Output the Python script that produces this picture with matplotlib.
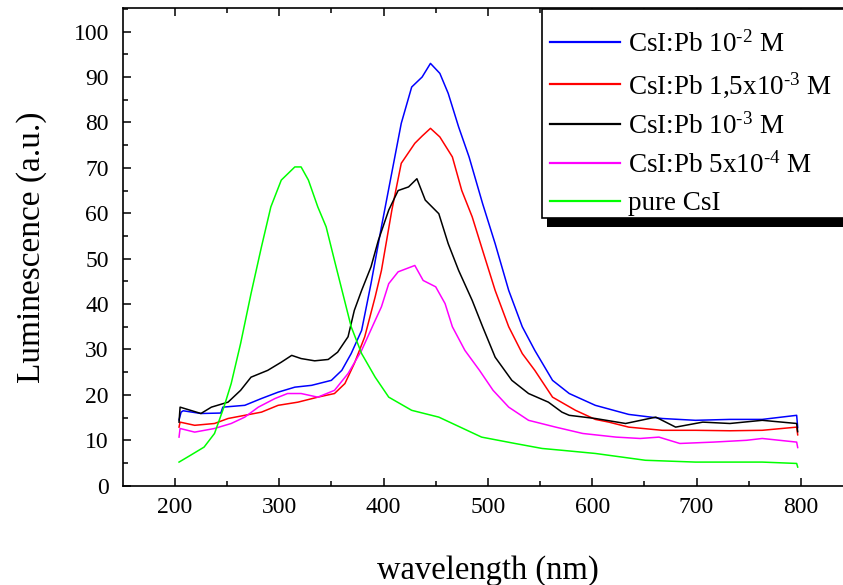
import matplotlib
matplotlib.use('Agg')
import matplotlib.pyplot as plt
from matplotlib.patches import Rectangle

plt.rcParams['font.family'] = ['Liberation Serif', 'DejaVu Serif']
plt.rcParams['mathtext.fontset'] = 'custom'
plt.rcParams['mathtext.rm'] = 'Liberation Serif'
plt.rcParams['mathtext.it'] = 'Liberation Serif:italic'

# spectra (wavelength nm, luminescence a.u.)
blue_x = [204, 206, 208, 225, 244, 246, 267, 283, 299, 315, 331, 350, 360, 369, 379, 388,
          398, 408, 417, 427, 437, 445, 454, 462, 472, 482, 495, 507, 520, 533, 545, 562,
          578, 603, 635, 667, 699, 732, 763, 796, 797]
blue_y = [14.5, 16.2, 16.5, 15.9, 16.0, 17.3, 17.7, 19.2, 20.6, 21.7, 22.1, 23.2, 25.4, 29.1,
          34.2, 44.5, 57.0, 69.0, 79.8, 87.8, 90.0, 93.0, 90.8, 86.4, 79.0, 72.4, 62.1, 53.3,
          43.0, 35.0, 29.8, 23.2, 20.3, 17.7, 15.7, 14.8, 14.4, 14.6, 14.6, 15.5, 12.8]

red_x = [204, 205, 219, 238, 251, 267, 283, 299, 318, 337, 353, 363, 372, 382, 392, 398,
         408, 417, 430, 437, 445, 454, 466, 475, 485, 495, 507, 520, 533, 545, 562, 584,
         603, 616, 635, 667, 699, 732, 763, 796, 797]
red_y = [12.9, 14.0, 13.3, 13.7, 14.8, 15.5, 16.2, 17.7, 18.4, 19.5, 20.3, 22.5, 26.9, 32.8,
         41.6, 47.4, 60.7, 71.0, 75.4, 77.0, 78.7, 76.8, 72.4, 65.0, 59.2, 51.8, 43.0, 35.0,
         29.1, 25.4, 19.5, 16.6, 14.6, 14.0, 12.9, 12.2, 12.2, 12.1, 12.2, 12.9, 11.2]

black_x = [204, 205, 225, 235, 251, 263, 273, 289, 302, 312, 321, 334, 347, 356, 366, 372,
           379, 388, 395, 405, 414, 424, 432, 440, 453, 462, 472, 485, 495, 507, 523, 539,
           558, 571, 578, 603, 632, 661, 680, 706, 732, 763, 796, 797]
black_y = [14.0, 17.3, 15.9, 17.3, 18.4, 21.0, 23.9, 25.4, 27.2, 28.7, 28.0, 27.5, 27.8, 29.4,
           32.8, 38.6, 43.0, 48.2, 54.0, 60.7, 65.0, 65.8, 67.6, 62.9, 59.9, 53.3, 47.4, 40.8,
           35.0, 28.3, 23.2, 20.3, 18.4, 16.2, 15.5, 14.8, 13.7, 15.1, 12.9, 14.0, 13.7, 14.4,
           13.7, 11.9]

magenta_x = [204, 205, 219, 238, 254, 267, 280, 296, 308, 321, 337, 353, 366, 379, 392, 398,
             405, 414, 430, 438, 450, 459, 466, 478, 492, 505, 520, 539, 565, 591, 623, 646,
             664, 684, 716, 748, 763, 796, 797]
magenta_y = [10.7, 12.6, 11.8, 12.6, 13.7, 15.1, 17.3, 19.2, 20.3, 20.3, 19.5, 21.0, 24.7, 29.8,
             36.4, 39.4, 44.5, 47.1, 48.5, 45.2, 43.8, 40.1, 35.0, 29.8, 25.4, 21.0, 17.3, 14.4,
             12.9, 11.5, 10.7, 10.4, 10.7, 9.3, 9.6, 10.0, 10.4, 9.6, 8.4]

green_x = [204, 215, 228, 238, 247, 254, 263, 273, 283, 292, 302, 315, 321, 328, 337, 345,
           353, 361, 369, 379, 392, 405, 427, 453, 494, 526, 552, 571, 603, 651, 699, 763,
           796, 797]
green_y = [5.2, 6.7, 8.5, 11.5, 17.3, 22.5, 31.3, 42.3, 52.6, 61.4, 67.3, 70.2, 70.2, 67.3,
           61.4, 57.0, 49.6, 42.3, 35.0, 29.1, 23.9, 19.5, 16.6, 15.1, 10.7, 9.3, 8.2, 7.8,
           7.1, 5.6, 5.2, 5.2, 4.9, 4.1]

labels = ['CsI:Pb 10$^{\\text{-}2}$ M', 'CsI:Pb 1,5x10$^{\\text{-}3}$ M',
          'CsI:Pb 10$^{\\text{-}3}$ M', 'CsI:Pb 5x10$^{\\text{-}4}$ M', 'pure CsI']

W, H = 843, 585
fig = plt.figure(figsize=(W / 100, H / 100), dpi=100)
ax = fig.add_axes([122.7 / W, (H - 485.7) / H, (853 - 122.7) / W, (485.7 - 8) / H])

lw = 1.1
ax.plot(blue_x, blue_y, color='#0000ff', lw=lw, label=labels[0])
ax.plot(red_x, red_y, color='#ff0000', lw=lw, label=labels[1])
ax.plot(black_x, black_y, color='black', lw=lw, label=labels[2])
ax.plot(magenta_x, magenta_y, color='#ff00ff', lw=lw, label=labels[3])
ax.plot(green_x, green_y, color='#00ff00', lw=lw, label=labels[4])

ax.set_xlim(150, 850)
ax.set_ylim(0, 105.2)
ax.set_xticks(range(200, 801, 100))
ax.set_xticks(range(250, 851, 100), minor=True)
ax.set_yticks(range(0, 101, 10))
ax.set_yticks(range(5, 106, 10), minor=True)
ax.tick_params(which='both', direction='in', top=True, right=True, width=1.1)
ax.tick_params(which='major', length=6, labelsize=17)
ax.tick_params(axis='x', which='major', pad=8)
ax.tick_params(axis='y', which='major', pad=10)
ax.tick_params(which='minor', length=3.5)
for s in ax.spines.values():
    s.set_linewidth(1.2)

ax.set_xlabel('wavelength (nm)', fontsize=23.5, labelpad=27)
ax.set_ylabel('Luminescence (a.u.)', fontsize=24, labelpad=19)

# legend frame with a solid drop shadow, partly cut by the right edge
def px_rect(x0, y0, x1, y1, **kw):
    return Rectangle((x0 / W, 1 - y1 / H), (x1 - x0) / W, (y1 - y0) / H,
                     transform=fig.transFigure, clip_on=False, **kw)

fig.patches.append(px_rect(547, 17, 860, 227, facecolor='black', edgecolor='none', zorder=5))
fig.patches.append(px_rect(541.7, 9.3, 852, 218, facecolor='white', edgecolor='black',
                           lw=1.2, zorder=6))

leg = fig.legend(loc='upper left', bbox_to_anchor=(550 / W, 1 - 31 / H), frameon=False,
                 fontsize=19.5, handlelength=2.6, handletextpad=0.28, labelspacing=0.47,
                 borderpad=0, borderaxespad=0)
leg.set_zorder(7)
for line in leg.get_lines():
    line.set_linewidth(1.6)

fig.savefig('out.png', dpi=100)
